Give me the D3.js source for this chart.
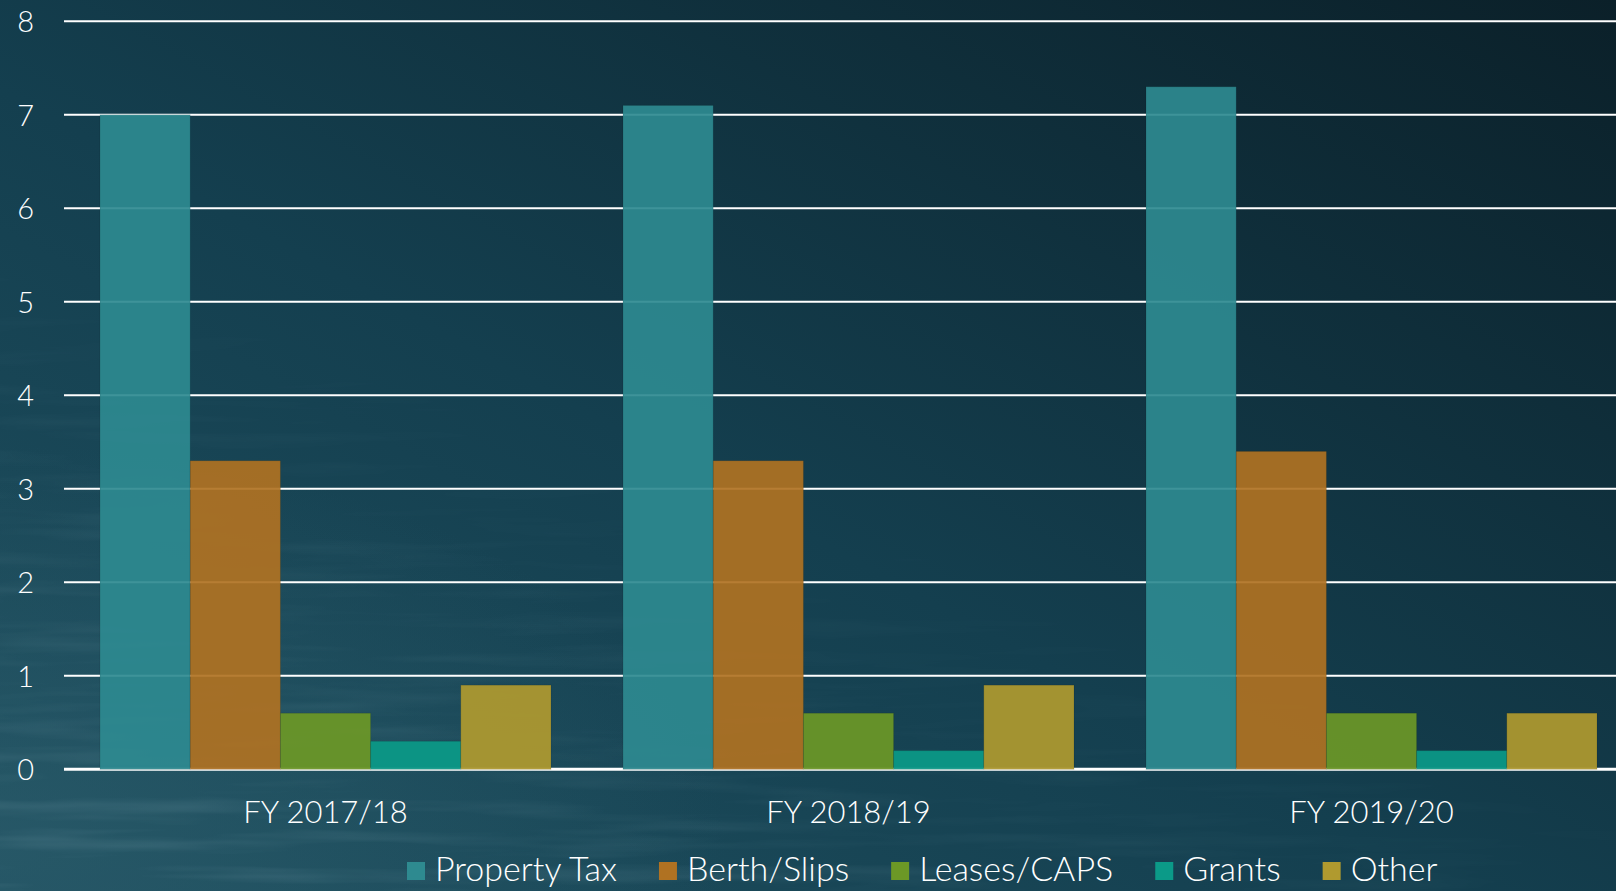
<!DOCTYPE html>
<html>
<head>
<meta charset="utf-8">
<script src="https://cdn.jsdelivr.net/npm/d3@7"></script>
<style>
  html, body { margin: 0; padding: 0; background: #12394a; overflow: hidden; }
  svg { display: block; }
  text { font-family: Lato, "Noto Sans", sans-serif; fill: #ffffff; }
</style>
</head>
<body>
<script>
// data
var categories = ["FY 2017/18", "FY 2018/19", "FY 2019/20"];
var series = ["Property Tax", "Berth/Slips", "Leases/CAPS", "Grants", "Other"];
var propertyTax = [7.0, 7.1, 7.3];
var berthSlips  = [3.3, 3.3, 3.4];
var leasesCaps  = [0.6, 0.6, 0.6];
var grants      = [0.3, 0.2, 0.2];
var other       = [0.9, 0.9, 0.6];
var yTicks = [0, 1, 2, 3, 4, 5, 6, 7, 8];
var colors = ["#2e8a90", "#b07222", "#6c9826", "#0b9a88", "#b09a2f"];

var values = [propertyTax, berthSlips, leasesCaps, grants, other];

var width = 1616, height = 891;

var svg = d3.select("body")
	.append("svg")
	.attr("width", width)
	.attr("height", height);

// background
var defs = svg.append("defs");
var bg = defs.append("linearGradient")
	.attr("id", "bg")
	.attr("x1", "0%").attr("y1", "100%")
	.attr("x2", "100%").attr("y2", "0%");
bg.append("stop").attr("offset", "0%").attr("stop-color", "#1f5060");
bg.append("stop").attr("offset", "45%").attr("stop-color", "#143f4f");
bg.append("stop").attr("offset", "100%").attr("stop-color", "#0b2029");

var glow = defs.append("radialGradient")
	.attr("id", "glow")
	.attr("cx", "0%").attr("cy", "95%").attr("r", "45%");
glow.append("stop").attr("offset", "0%").attr("stop-color", "#2a5b6a").attr("stop-opacity", 0.7);
glow.append("stop").attr("offset", "100%").attr("stop-color", "#2a5b6a").attr("stop-opacity", 0);

// streaky water texture, only bottom-left
var filt = defs.append("filter").attr("id", "streaks")
	.attr("x", 0).attr("y", 0).attr("width", "100%").attr("height", "100%");
filt.append("feTurbulence")
	.attr("type", "fractalNoise")
	.attr("baseFrequency", "0.004 0.06")
	.attr("numOctaves", 3)
	.attr("seed", 4);
filt.append("feColorMatrix")
	.attr("type", "matrix")
	.attr("values", "0 0 0 0 0.35  0 0 0 0 0.55  0 0 0 0 0.62  0 0 0 1.2 -0.55");
var fade = defs.append("linearGradient")
	.attr("id", "fade")
	.attr("x1", "0%").attr("y1", "100%")
	.attr("x2", "35%").attr("y2", "45%");
fade.append("stop").attr("offset", "0%").attr("stop-color", "#fff").attr("stop-opacity", 1);
fade.append("stop").attr("offset", "100%").attr("stop-color", "#fff").attr("stop-opacity", 0);
defs.append("mask").attr("id", "fadeMask")
	.append("rect").attr("width", width).attr("height", height).attr("fill", "url(#fade)");

svg.append("rect").attr("width", width).attr("height", height).attr("fill", "url(#bg)");
svg.append("rect").attr("width", width).attr("height", height).attr("fill", "url(#glow)");
svg.append("rect").attr("width", width).attr("height", height)
	.attr("filter", "url(#streaks)")
	.attr("mask", "url(#fadeMask)")
	.attr("opacity", 0.3);

// scales
var x0 = d3.scaleBand()
	.domain(categories)
	.range([64, 1633])
	.paddingInner(72 / 523)
	.paddingOuter(36 / 523);

var x1 = d3.scaleBand()
	.domain(series)
	.range([0, x0.bandwidth()]);

var y = d3.scaleLinear()
	.domain([0, 8])
	.range([769.3, 21.3]);

// gridlines
svg.append("g")
	.selectAll("line")
	.data(yTicks)
	.enter()
	.append("line")
	.attr("x1", 64)
	.attr("x2", width)
	.attr("y1", function(d){ return y(d); })
	.attr("y2", function(d){ return y(d); })
	.attr("stroke", "#ffffff")
	.attr("stroke-width", function(d){ return d === 0 ? 3 : 2; });

// y tick labels
var yAxis = d3.axisLeft(y).tickValues(yTicks).tickSize(0).tickPadding(0);
var ya = svg.append("g")
	.attr("transform", "translate(34,0)")
	.call(yAxis);
ya.select(".domain").remove();
ya.selectAll("text")
	.attr("fill", "#ffffff")
	.style("font-size", "29px")
	.style("font-weight", 300)
	.attr("dy", "0.36em");

// bars
var groups = svg.append("g")
	.selectAll("g")
	.data(categories)
	.enter()
	.append("g")
	.attr("transform", function(d){ return "translate(" + x0(d) + ",0)"; });

groups.selectAll("rect")
	.data(function(d, i){
		return series.map(function(s, j){ return {s: s, v: values[j][i], c: colors[j]}; });
	})
	.enter()
	.append("rect")
	.attr("x", function(d){ return x1(d.s); })
	.attr("y", function(d){ return y(d.v); })
	.attr("width", x1.bandwidth())
	.attr("height", function(d){ return y(0) - y(d.v); })
	.attr("fill", function(d){ return d.c; })
	.attr("fill-opacity", 0.92)
	.attr("stroke", "rgba(0,0,0,0.1)")
	.attr("stroke-width", 1);

// category labels
var xAxis = d3.axisBottom(x0).tickSize(0).tickPadding(0);
var xa = svg.append("g")
	.attr("transform", "translate(0,823)")
	.call(xAxis);
xa.select(".domain").remove();
xa.selectAll("text")
	.attr("fill", "#ffffff")
	.attr("dy", 0)
	.style("font-size", "31px")
	.style("font-weight", 300);

// legend
var legend = svg.append("g").attr("transform", "translate(407,0)");
var cursor = 0;
series.forEach(function(s, j){
	var item = legend.append("g").attr("transform", "translate(" + cursor + ",0)");
	item.append("rect")
		.attr("x", 0)
		.attr("y", 862)
		.attr("width", 18)
		.attr("height", 18)
		.attr("fill", colors[j]);
	var t = item.append("text")
		.attr("x", 28)
		.attr("y", 881)
		.style("font-size", "34px")
		.style("font-weight", 300)
		.text(s);
	cursor += 28 + t.node().getComputedTextLength() + 42;
});
</script>
</body>
</html>
